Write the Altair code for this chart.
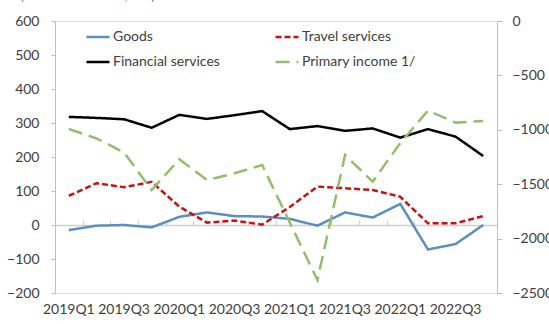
import altair as alt
import pandas as pd

quarters = ["2019Q1", "2019Q2", "2019Q3", "2019Q4", "2020Q1", "2020Q2", "2020Q3", "2020Q4",
            "2021Q1", "2021Q2", "2021Q3", "2021Q4", "2022Q1", "2022Q2", "2022Q3", "2022Q4"]
xlabels = ["2019Q1", "2019Q3", "2020Q1", "2020Q3", "2021Q1", "2021Q3", "2022Q1", "2022Q3"]
goods = [-15, -2, 0, -7, 24, 37, 26, 25, 18, -2, 37, 22, 62, -72, -56, 0]
travel = [86, 123, 111, 127, 54, 7, 13, 1, 53, 113, 108, 103, 83, 5, 5, 26]
financial = [318, 315, 311, 286, 324, 312, 323, 335, 282, 291, 277, 284, 257, 282, 260, 203]
primary = [-993, -1078, -1210, -1553, -1271, -1461, -1400, -1324, -1853, -2381, -1232, -1477,
           -1121, -824, -934, -919]
# legend order (filled so rows read: Goods | Travel services, Financial services | Primary income 1/)
series_names = ["Goods", "Financial services", "Travel services", "Primary income 1/"]
series_colors = ["#5b8ec2", "#000000", "#cc1111", "#93bf6b"]
series_dash = [[1, 0], [1, 0], [6, 3], [14, 7]]
subtitle = ["(millions of Euros, net)"]

FONT = "Lato"
TXT = "#404040"
GRAY = "#bfbfbf"

left_rows = []
for name, vals in zip(["Goods", "Travel services", "Financial services"], [goods, travel, financial]):
    for q, v in zip(quarters, vals):
        left_rows.append({"quarter": q, "series": name, "value": v})
left_df = pd.DataFrame(left_rows)
right_df = pd.DataFrame({"quarter": quarters, "series": "Primary income 1/", "value": primary})

color = alt.Color("series:N", scale=alt.Scale(domain=series_names, range=series_colors),
                  sort=series_names,
                  legend=alt.Legend(title=None, orient="none", legendX=30, legendY=3,
                                    columns=2, columnPadding=50, rowPadding=5,
                                    symbolType="stroke", symbolSize=529, symbolStrokeWidth=2.5,
                                    labelFont=FONT, labelFontSize=14, labelColor=TXT,
                                    labelOffset=2))
dash = alt.StrokeDash("series:N", scale=alt.Scale(domain=series_names, range=series_dash),
                      sort=series_names, legend=None)

xscale = alt.Scale(type="band", paddingInner=0, paddingOuter=0, domain=quarters)

left = alt.Chart(left_df).mark_line(strokeWidth=2.5).encode(
    x=alt.X("quarter:O", scale=xscale, bandPosition=0.5, sort=quarters, title=None,
            axis=alt.Axis(values=xlabels, labelAngle=0, ticks=False, domain=False,
                          labelFont=FONT, labelFontSize=14, labelColor=TXT, labelPadding=9)),
    y=alt.Y("value:Q", scale=alt.Scale(domain=[-200, 600], nice=False), title=None,
            axis=alt.Axis(values=list(range(-200, 601, 100)), orient="left", grid=False,
                          format="d",
                          domainColor=GRAY, tickColor=GRAY, tickSize=4, labelPadding=12,
                          labelFont=FONT, labelFontSize=14, labelColor=TXT)),
    color=color,
    strokeDash=dash,
)

right = alt.Chart(right_df).mark_line(strokeWidth=2.5).encode(
    x=alt.X("quarter:O", scale=xscale, bandPosition=0.5, sort=quarters, title=None,
            axis=alt.Axis(orient="top", offset=-204, labels=False, tickBand="extent",
                          domainColor="#d0d0d0", domainWidth=1.5, tickColor="#d0d0d0",
                          tickSize=5, tickWidth=1.2)),
    y=alt.Y("value:Q", scale=alt.Scale(domain=[-2500, 0], nice=False), title=None,
            axis=alt.Axis(values=list(range(-2500, 1, 500)), orient="right", grid=False,
                          format="d",
                          domainColor=GRAY, tickColor=GRAY, tickSize=5, labelPadding=10,
                          labelFont=FONT, labelFontSize=14, labelColor=TXT)),
    color=color,
    strokeDash=dash,
)

title_layer = alt.Chart(pd.DataFrame({"t": subtitle})).mark_text(
    align="left", baseline="alphabetic", font=FONT, fontSize=14, color="#4a86c5"
).encode(x=alt.value(-35), y=alt.value(-21), text="t:N")

chart = alt.layer(left, right, title_layer).resolve_scale(
    y="independent"
).resolve_axis(x="independent", y="independent").properties(
    width=442, height=272,
    autosize=alt.AutoSizeParams(type="none"),
    padding={"left": 55, "top": 21, "right": 52, "bottom": 31},
).configure_view(stroke=GRAY, strokeWidth=1).configure(background="white")

chart.save("out.html", embed_options={"renderer": "svg", "actions": False})
